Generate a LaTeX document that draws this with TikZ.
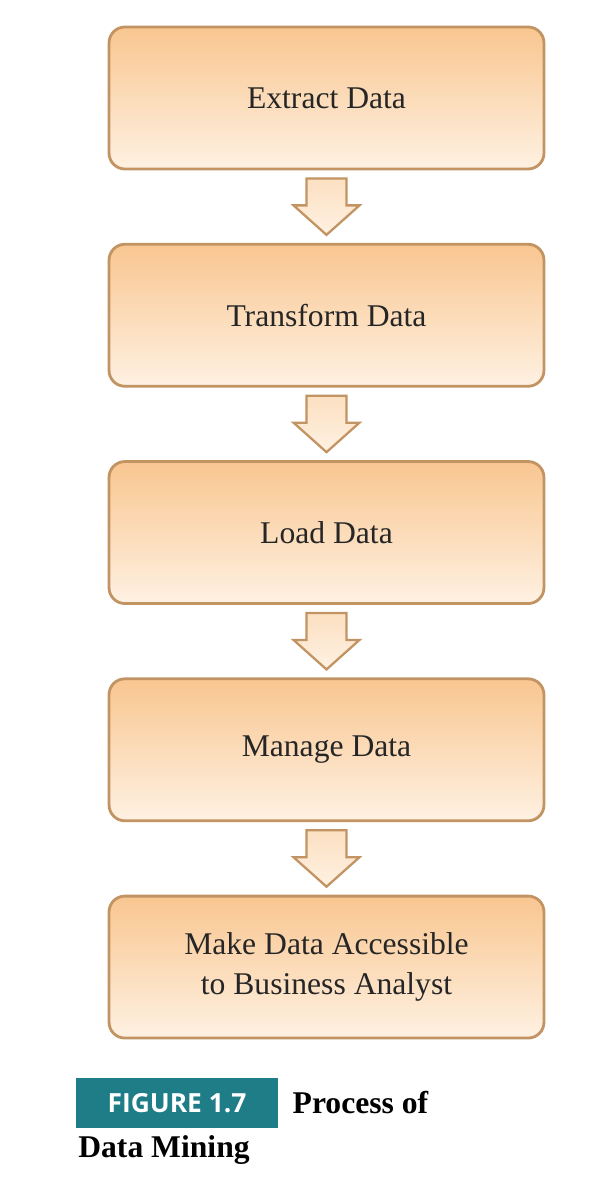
\documentclass[tikz,border=0pt]{standalone}
\usepackage{fontspec}
\setmainfont{Liberation Serif}
\newfontfamily\capsans{Open Sans}
\usetikzlibrary{positioning,calc}
\definecolor{boxtop}{HTML}{F9C690}
\definecolor{boxbot}{HTML}{FEF1E2}
\definecolor{boxline}{HTML}{C39463}
\definecolor{figteal}{HTML}{1F7D87}
\tikzset{
  stepbox/.style={draw=boxline, line width=1.6pt, rounded corners=9pt,
    top color=boxtop, bottom color=boxbot, minimum width=8.7cm,
    minimum height=2.84cm, align=center, font=\fontsize{18}{23}\selectfont,
    text=black!85},
  downarrow/.style={draw=boxline, line width=1.3pt, top color=boxbot!60!boxtop, bottom color=boxbot}
}
\begin{document}
\begin{tikzpicture}[x=0.02cm,y=-0.02cm]
\useasboundingbox[fill=white] (0,0) rectangle (602,1200);
\node[stepbox] (extract) at (326.5,98) {Extract Data};
\node[stepbox, below=1.45cm of extract] (transform) {Transform Data};
\node[stepbox, below=1.45cm of transform] (load) {Load Data};
\node[stepbox, below=1.45cm of load] (manage) {Manage Data};
\node[stepbox, below=1.45cm of manage] (access) {Make Data Accessible\\to Business Analyst};

% block arrows between the boxes
\foreach \a/\b in {extract/transform, transform/load, load/manage, manage/access}{
  \draw[downarrow] ($(\a.south)+(-0.4cm,-0.16cm)$) -- ($(\a.south)+(0.4cm,-0.16cm)$)
    -- ($(\a.south)+(0.4cm,-0.7cm)$) -- ($(\a.south)+(0.66cm,-0.7cm)$)
    -- ($(\b.north)+(0cm,0.16cm)$) -- ($(\a.south)+(-0.66cm,-0.7cm)$)
    -- ($(\a.south)+(-0.4cm,-0.7cm)$) -- cycle;
}

% caption
\node[fill=figteal, text=white, font=\capsans\bfseries\fontsize{15}{18}\selectfont,
  minimum width=4.04cm, minimum height=1.0cm, inner sep=0pt] (figlabel) at (177,1103) {FIGURE 1.7};
\node[right=0.28cm of figlabel, inner sep=0pt, font=\bfseries\fontsize{18}{22}\selectfont] (captop) {Process of};
\node[anchor=north west, inner sep=0pt, font=\bfseries\fontsize{18}{22}\selectfont] (capbot) at (78,1135) {Data Mining};
\end{tikzpicture}
\end{document}
